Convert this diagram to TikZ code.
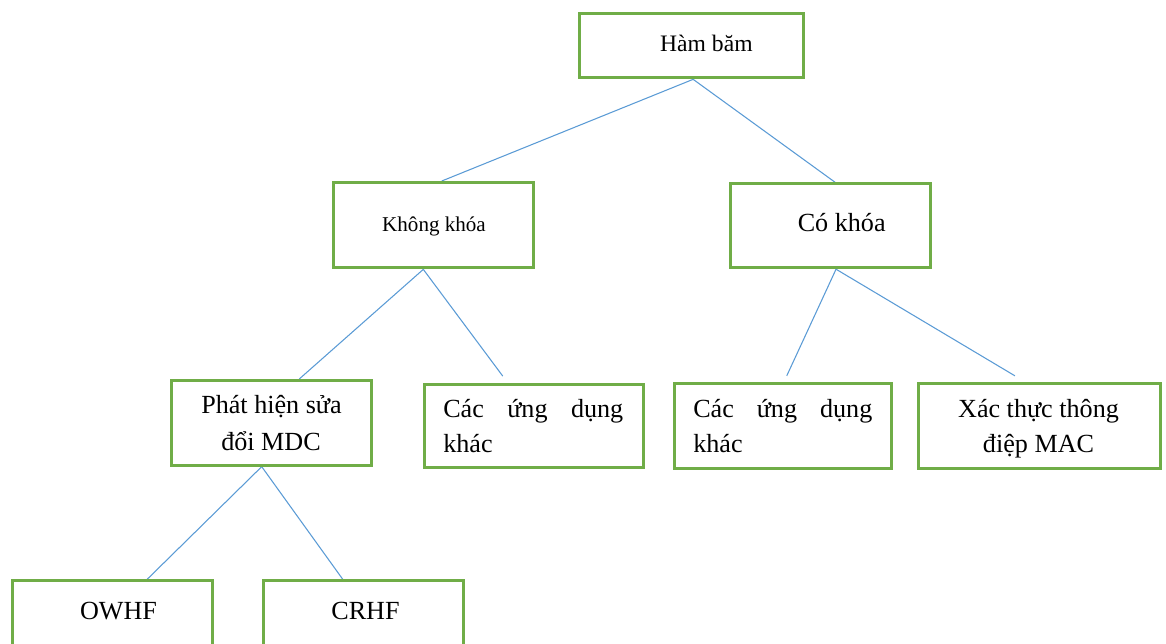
\documentclass[tikz,border=0pt]{standalone}
\usepackage{fontspec}
\setmainfont{Liberation Serif}
\usetikzlibrary{backgrounds}
\definecolor{boxgreen}{RGB}{112,173,71}
\definecolor{linkblue}{RGB}{91,155,213}
\begin{document}
\begin{tikzpicture}[x=0.75pt,y=-0.75pt,
  box/.style={draw=boxgreen, line width=2.25pt, rectangle, inner sep=0pt, fill=white},
  lbl/.style={inner sep=0pt, anchor=base, font=\fontsize{19.6pt}{23pt}\selectfont},
  link/.style={draw=linkblue, line width=0.8pt}]
\useasboundingbox (0,0) rectangle (1166,643);

% boxes of the hierarchy
\node[box, minimum width=168pt, minimum height=48.5pt] (ham) at (691.8,45.5) {};
\node[box, minimum width=150pt, minimum height=64pt] (khong) at (433.7,225.2) {};
\node[box, minimum width=150pt, minimum height=63pt] (co) at (830.3,225.7) {};
\node[box, minimum width=150pt, minimum height=63.5pt] (phat) at (271.3,422.8) {};
\node[box, minimum width=164pt, minimum height=62.3pt] (cacL) at (534.2,426.3) {};
\node[box, minimum width=163.2pt, minimum height=63.5pt] (cacR) at (783,426.2) {};
\node[box, minimum width=181.5pt, minimum height=63.5pt] (xac) at (1039.2,426.2) {};
\node[box, minimum width=150pt, minimum height=64pt] (owhf) at (112,623.3) {};
\node[box, minimum width=150.2pt, minimum height=64pt] (crhf) at (363.3,623.3) {};

% labels, placed by baseline
\node[lbl, font=\fontsize{17.7pt}{21pt}\selectfont] (hamT) at (706.4,51.7) {Hàm băm};
\node[lbl, font=\fontsize{15.8pt}{19pt}\selectfont] (khongT) at (434,231.7) {Không khóa};
\node[lbl] (coT) at (841.7,231.7) {Có khóa};
\node[lbl] (phatT1) at (271.5,413.3) {Phát hiện sửa};
\node[lbl] (phatT2) at (271,450) {đổi MDC};
\node[lbl, anchor=base west] (cacLT1) at (443,417) {\makebox[135pt][s]{Các ứng dụng}};
\node[lbl, anchor=base west] (cacLT2) at (443,452.7) {khác};
\node[lbl, anchor=base west] (cacRT1) at (693,417) {\makebox[134.3pt][s]{Các ứng dụng}};
\node[lbl, anchor=base west] (cacRT2) at (693,452.7) {khác};
\node[lbl] (xacT1) at (1038.5,417) {Xác thực thông};
\node[lbl] (xacT2) at (1038.5,452.3) {điệp MAC};
\node[lbl] (owhfT) at (118.5,619.3) {OWHF};
\node[lbl] (crhfT) at (365.5,619.3) {CRHF};

% connectors behind the boxes
\begin{scope}[on background layer]
\draw[link] ([xshift=1pt]ham.south) -- ([xshift=6pt]khong.north);
\draw[link] ([xshift=1pt]ham.south) -- ([xshift=3.5pt]co.north);
\draw[link] ([xshift=-7.8pt]khong.south) -- ([xshift=21pt]phat.north);
\draw[link] ([xshift=-7.8pt]khong.south) -- ([xshift=-23.6pt,yshift=5.4pt]cacL.north);
\draw[link] ([xshift=4.3pt]co.south) -- ([xshift=2.8pt,yshift=4.9pt]cacR.north);
\draw[link] ([xshift=4.3pt]co.south) -- ([xshift=-18.2pt,yshift=4.9pt]xac.north);
\draw[link] ([xshift=-7.2pt]phat.south) -- ([xshift=26.5pt]owhf.north);
\draw[link] ([xshift=-7.2pt]phat.south) -- ([xshift=-15.5pt]crhf.north);
\end{scope}
\end{tikzpicture}
\end{document}
